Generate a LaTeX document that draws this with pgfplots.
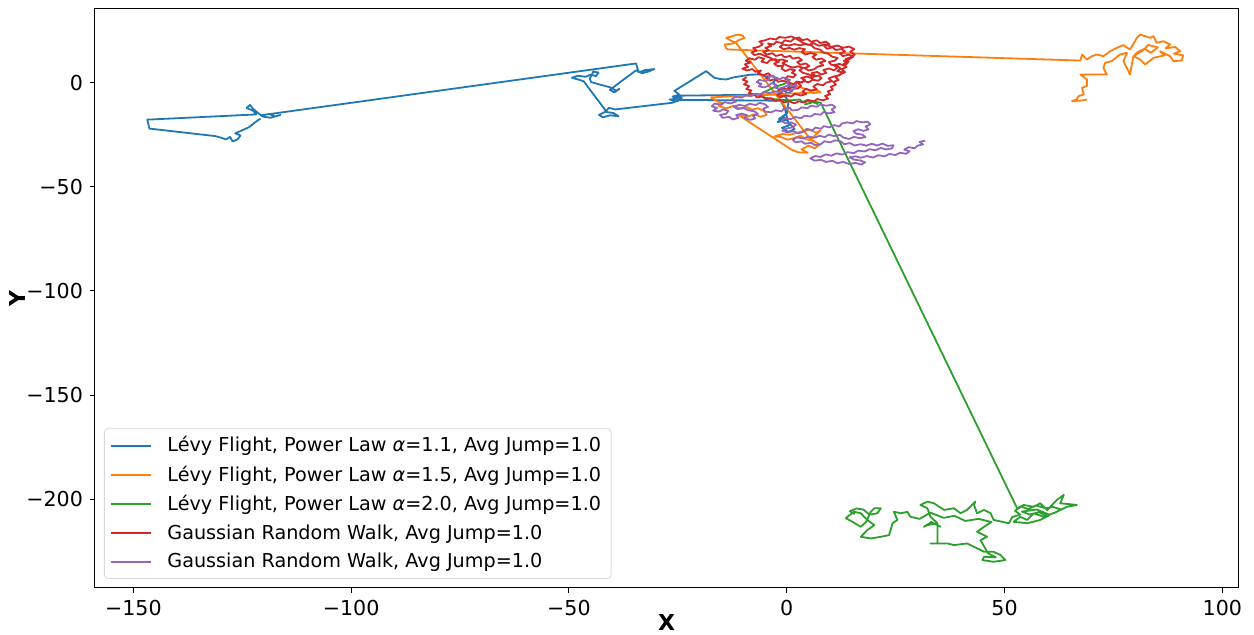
\documentclass[border=0pt]{standalone}
\usepackage{fontspec}
\setmainfont{DejaVu Sans}
\usepackage{pgfplots}
\pgfplotsset{compat=1.18}
\definecolor{c0}{HTML}{1F77B4}
\definecolor{c1}{HTML}{FF7F0E}
\definecolor{c2}{HTML}{2CA02C}
\definecolor{c3}{HTML}{D62728}
\definecolor{c4}{HTML}{9467BD}
\begin{document}
\begin{tikzpicture}
\begin{axis}[
  scale only axis, width=571.5pt, height=289.85pt,
  xmin=-158.8, xmax=103.6, ymin=-242.7, ymax=35.8,
  xtick={-150,-100,-50,0,50,100}, xticklabels={−150,−100,−50,0,50,100},
  ytick={-200,-150,-100,-50,0}, yticklabels={−200,−150,−100,−50,0},
  tick align=outside, tick pos=left, major tick length=2.5pt,
  tick style={black, line width=0.5pt},
  ticklabel style={font=\fontsize{10.3}{12}\selectfont},
  xlabel={X}, ylabel={Y},
  xlabel shift=-7.5pt, ylabel shift=-6.5pt,
  label style={font=\fontsize{11}{13}\selectfont\bfseries},
  axis line style={line width=0.5pt},
  legend style={at={(0,0)}, anchor=south west, xshift=4.5pt, yshift=4.5pt,
    draw=black!15, rounded corners=2pt, font=\fontsize{9.6}{11}\selectfont,
    row sep=1.5pt, inner xsep=3pt, inner ysep=2pt,
    /tikz/every odd column/.style={column sep=5.5pt}},
  legend cell align=left,
  legend image code/.code={\draw[#1, line width=1pt] (0pt,0pt) -- (20pt,0pt);},
  every axis plot/.append style={line width=0.9pt, line join=round},
]
\addplot[c0] coordinates {
(0,0) (0.9,-1.2) (0.2,-2.6) (1.3,-3.8) (0.3,-5.0) (-0.8,-3.6) (-2.2,-2.6) (-3.1,0.4) (-2.0,2.1) (-3.6,3.2) (-5.0,3.1) (-6.3,4.0) (-8.4,3.9) (-10.5,3.2) (-12.2,2.6) (-13.9,1.6) (-15.2,1.8) (-16.6,2.4) (-18.5,5.6) (-22.7,0.1) (-25.8,-3.9)
(-24.6,-5.8) (-26.2,-6.6) (-25.0,-7.6) (-26.9,-8.0) (-25.4,-8.9) (-24.1,-7.3) (-25.6,-6.2)
(-1.6,-5.6) (-0.2,-6.8) (0.4,-9.3) (0.2,-12.0) (0.1,-14.6) (-1.8,-17.4) (-0.3,-18.0) (-2.1,-18.9) (-0.6,-16.5) (0.7,-19.6) (1.8,-22.3) (0.3,-23.6) (-1.1,-21.6) (0.5,-20.5) (-0.4,-12.5) (-1.4,-8.6)
(-24.4,-8.2) (-26.3,-9.6)
(-39.4,-12.8) (-40.8,-12.0) (-41.6,-13.9) (-43.1,-15.4) (-42.2,-16.6) (-40.5,-15.6) (-38.6,-16.1) (-39.8,-14.5) (-41.3,-14.1)
(-46.6,0.7) (-47.9,1.6) (-49.3,2.4) (-48.0,3.4) (-46.2,2.9) (-45.0,3.9) (-43.8,3.2) (-43.2,4.9) (-44.4,5.4) (-45.2,1.9) (-44.9,0.3)
(-40.3,-2.3) (-39.2,-3.8) (-38.4,-2.9) (-39.6,-4.6) (-40.6,-3.4)
(-34.6,6.0) (-33.2,4.6) (-31.6,5.5) (-30.4,6.6) (-32.5,6.1) (-34.0,5.0) (-34.6,9.3)
(-120.7,-15.6) (-118.8,-15.0) (-117.4,-16.2) (-116.2,-15.4) (-118.5,-16.8) (-120.3,-16.2) (-121.5,-14.3) (-122.6,-12.3) (-123.2,-10.6) (-124.0,-12.1) (-122.4,-13.5) (-121.8,-15.2)
(-146.8,-17.7) (-146.3,-22.0) (-131.2,-25.6) (-129.8,-26.4) (-128.7,-27.2) (-127.8,-26.0) (-127.2,-28.2) (-126.0,-27.0) (-125.4,-25.3) (-126.6,-24.3) (-125.2,-23.0) (-123.5,-21.4) (-121.8,-18.6) (-120.8,-17.2)
};
\addlegendentry{Lévy Flight, Power Law {\itshape α}=1.1, Avg Jump=1.0}
\addplot[c1] coordinates {
(0,0) (1.4,-0.8) (2.7,-1.9) (4.1,-2.8) (5.5,-3.8) (6.9,-3.5) (7.8,-4.6) (6.2,-4.9) (5.5,-4.7)
(-17.4,-7.0) (-16.0,-8.9) (-14.5,-9.8) (-15.6,-11.2) (-13.8,-12.3) (-12.2,-11.0) (-10.7,-12.4) (-9.2,-11.6) (-8.0,-12.9) (-6.6,-12.2) (-5.2,-13.6) (-4.6,-15.4) (-6.0,-16.3) (-7.5,-15.1) (-9.1,-16.4) (-10.6,-15.3) (-11.2,-15.3)
(1.0,-32.0) (2.6,-33.4) (4.8,-33.6) (3.4,-32.0) (5.0,-30.2) (6.4,-31.5) (7.6,-29.8) (6.2,-28.0) (4.4,-27.0) (3.2,-25.4) (1.6,-26.6) (0.2,-27.3) (-1.4,-26.0) (-2.8,-25.8) (-1.0,-24.6) (0.6,-25.0) (3.8,-23.2) (5.2,-22.5) (6.8,-24.0) (7.8,-22.8) (5.5,-27.3)
(-11.7,19.4) (-12.8,20.2) (-13.9,21.6) (-12.5,22.4) (-11.4,23.1) (-10.2,22.8) (-9.7,21.5) (-10.9,20.6) (-12.2,18.9) (-14.2,18.4) (-14.0,16.8) (-13.5,16.0)
(67.4,10.7) (67.8,13.6) (68.9,11.2) (70.1,12.8) (71.2,13.6) (72.7,12.8) (74.3,15.2) (75.8,16.8) (77.3,18.1) (78.8,16.0) (80.4,21.6) (81.1,23.2) (83.4,21.6) (84.2,22.4) (84.9,19.2) (86.5,20.0) (88.0,18.4) (87.0,16.6) (89.2,17.2) (90.3,15.2) (88.9,14.0) (91.0,13.2) (90.7,10.7) (88.8,10.4) (88.0,12.8) (85.7,15.2) (86.8,13.2) (84.2,12.0) (82.3,8.8) (81.1,11.2) (79.6,12.8) (80.6,14.8) (82.2,16.4) (83.6,14.4) (85.2,17.0) (83.0,18.2) (81.8,15.6) (79.6,12.8) (78.8,4.0) (77.3,10.4) (78.1,14.4) (76.5,13.6) (74.6,10.4) (73.1,9.6) (72.7,7.2) (73.5,4.0) (70.4,4.0) (67.4,4.0) (68.9,1.6) (68.9,-1.6) (67.8,-2.4) (68.2,-5.6) (67.0,-6.4) (66.6,-8.0) (65.5,-8.8) (67.8,-8.5) (68.9,-8.0)
};
\addlegendentry{Lévy Flight, Power Law {\itshape α}=1.5, Avg Jump=1.0}
\addplot[c2] coordinates {
(0,0) (-1.2,-1.0) (-2.6,-1.8) (-3.9,-3.2) (-5.1,-4.4) (-6.3,-5.9) (-5.0,-7.1) (-3.2,-7.8) (-1.0,-8.2) (1.1,-8.4) (3.0,-8.0) (3.6,-9.3) (4.8,-8.2) (5.6,-9.6) (4.2,-10.4) (6.2,-9.0) (7.1,-10.2) (5.3,-8.6) (7.8,-9.6)
(52.9,-204.4) (54.4,-202.8) (56.7,-203.7) (58.2,-202.0) (59.8,-205.3) (62.0,-200.4) (63.6,-198.0) (62.8,-202.0) (66.6,-202.8) (64.3,-203.7) (62.0,-206.1) (59.0,-208.5) (56.7,-206.8) (55.2,-210.0) (53.6,-208.5) (52.1,-210.9) (55.2,-211.6) (58.2,-210.0) (60.4,-207.6) (57.4,-205.0) (54.0,-206.0) (55.8,-207.4) (57.9,-206.3) (59.6,-207.9) (61.5,-206.6) (63.0,-205.0) (61.2,-203.8) (59.4,-204.4) (57.2,-203.0) (55.5,-204.8) (53.8,-203.6) (52.4,-205.6) (53.6,-207.4) (51.8,-208.6) (51.0,-211.6) (47.5,-210.0) (46.8,-206.8) (45.3,-205.2) (43.7,-206.8) (43.0,-202.8) (43.3,-201.2) (41.4,-205.2) (39.9,-206.8) (38.4,-204.4) (36.1,-205.2) (33.8,-202.0) (32.3,-201.2) (30.7,-202.8) (32.3,-204.4) (33.0,-208.5) (34.6,-211.6) (32.3,-212.5) (31.5,-213.3) (33.2,-211.0) (35.3,-213.3) (34.6,-212.4) (34.6,-221.3) (33.0,-221.3) (36.9,-221.3) (38.4,-222.1) (41.4,-221.3) (43.0,-222.9) (45.3,-225.3) (47.5,-225.3) (49.1,-226.9) (50.2,-229.3) (47.5,-230.1) (44.9,-229.3) (45.3,-227.7) (48.0,-228.0) (46.2,-226.0) (44.5,-219.7) (46.0,-218.1) (43.7,-215.7) (45.3,-213.3) (47.0,-211.0) (44.0,-209.5) (41.0,-210.5) (38.5,-208.0) (36.0,-209.0) (33.0,-206.5) (30.5,-209.5) (28.4,-208.5) (27.7,-206.1) (26.2,-206.8) (24.6,-206.1) (25.4,-210.0) (24.3,-211.6) (23.5,-217.3) (21.6,-218.1) (19.3,-218.9) (17.0,-218.1) (18.5,-214.9) (20.1,-212.5) (18.5,-210.0) (17.0,-206.8) (15.5,-206.1) (13.9,-208.5) (13.6,-209.2) (15.1,-210.9) (17.0,-213.3) (18.2,-211.0) (19.3,-206.1) (20.1,-204.4) (21.6,-204.4) (20.8,-206.8) (19.0,-207.5) (17.6,-205.0) (16.0,-204.5) (14.5,-205.8) (15.6,-207.2)
};
\addlegendentry{Lévy Flight, Power Law {\itshape α}=2.0, Avg Jump=1.0}
\addplot[c3] coordinates {
(0,0) (0.7,1.3) (-0.4,1.9) (0.3,3.2) (1.5,2.6) (2.1,3.9) (1.2,4.8) (1.9,6.1) (0.6,6.5) (-0.3,5.6) (-1.2,6.9) (-0.8,8.3) (-2.1,8.0) (-2.9,9.2) (-1.8,10.1) (-2.6,11.4) (-3.9,10.8) (-4.5,9.5) (-5.8,10.2) (-5.2,11.6) (-6.5,12.3) (-7.3,11.1) (-8.6,11.8) (-9.4,10.6) (-8.3,9.7) (-9.6,8.9) (-8.9,7.6) (-10.2,6.8) (-9.1,5.9) (-7.9,6.6) (-7.2,5.3) (-5.9,5.9) (-6.6,4.5) (-5.4,3.7) (-4.2,4.6) (-3.6,3.2) (-4.8,2.4) (-3.9,1.1) (-2.6,1.8) (-2.0,0.5) (-0.8,1.0) (0.4,0.2) (1.6,-0.7) (2.3,0.6) (3.5,0.1) (4.2,1.4) (3.3,2.3) (4.6,3.0) (5.8,2.2) (6.5,3.5) (5.7,4.6) (7.0,5.2) (7.9,4.0) (9.1,4.8) (8.4,6.1) (9.7,6.9) (10.9,6.0) (11.6,7.3) (10.8,8.5) (12.1,9.1) (13.2,8.2) (14.0,9.5) (13.1,10.6) (14.4,11.4) (15.3,12.6) (14.2,13.5) (12.9,12.8) (12.2,14.1) (13.4,15.0) (12.6,16.2) (11.2,15.8) (10.5,17.1) (9.3,16.3) (8.6,17.6) (9.8,18.5) (9.0,19.8) (7.7,19.1) (6.9,20.4) (5.6,19.7) (4.8,21.0) (3.5,20.5) (2.8,21.8) (1.6,21.1) (0.9,19.8) (-0.4,20.4) (-1.1,19.1) (-2.4,19.7) (-3.0,18.4) (-4.3,18.9) (-3.6,17.6) (-4.9,16.8) (-4.1,15.6) (-5.4,14.9) (-4.6,13.6) (-3.3,14.2) (-2.5,12.9) (-1.2,13.6) (-0.5,12.3) (0.8,12.9) (1.4,11.6) (2.7,12.2) (3.5,10.9) (2.4,10.0) (3.1,8.7) (4.4,9.3) (5.2,8.0) (4.1,7.1) (5.0,5.9) (6.3,6.5) (7.1,7.8) (8.4,8.4) (7.6,9.7) (8.9,10.5) (8.0,11.7) (6.7,11.1) (5.9,12.4) (6.8,13.6) (5.5,14.3) (4.3,13.6) (3.4,14.8) (4.2,16.1) (2.9,16.7) (1.7,15.9) (0.6,16.8) (-0.7,16.1) (-1.6,17.3) (-0.8,18.4) (0.5,17.9) (1.8,18.6) (3.1,18.0) (4.4,18.7) (5.7,17.9) (6.4,16.6) (7.7,15.9) (8.3,14.6) (9.6,13.9) (10.4,12.6) (11.7,11.9) (11.0,10.6) (9.7,10.0) (10.2,8.7) (11.5,8.2) (12.4,6.9) (11.6,5.6) (12.9,4.9) (12.1,3.6) (10.8,3.0) (9.6,2.1) (10.4,0.8) (9.1,0.1) (8.3,-1.2) (7.0,-0.6) (6.1,-1.8) (6.9,-3.1) (5.6,-3.7) (4.4,-2.9) (3.6,-4.2) (4.5,-5.4) (3.2,-6.1) (1.9,-5.3) (1.0,-6.6) (-0.3,-6.0) (-1.4,-7.0) (-2.2,-5.8) (-1.1,-4.9) (-2.0,-3.7) (-0.9,-2.6) (0.3,-3.3) (1.2,-2.1) (2.5,-2.8) (3.3,-1.5) (2.6,-0.2) (3.9,0.8) (5.1,0.2) (5.9,1.5) (7.2,1.0) (8.0,2.3) (7.3,3.5) (6.1,2.9) (5.0,4.1) (3.7,4.8) (2.9,6.0) (3.8,7.2) (2.6,7.9) (1.3,7.3) (0.2,8.2) (-1.0,9.5) (0.1,10.5) (-1.2,11.2) (-2.5,10.6) (-3.8,12.0) (-5.0,12.9) (-6.2,14.0) (-7.4,13.3) (-8.1,14.6) (-6.9,15.4) (-7.7,16.7) (-6.4,17.3) (-5.5,18.6) (-6.3,19.8) (-5.0,20.4) (-3.8,21.3) (-2.5,20.8) (-1.7,22.0) (-0.3,21.6) (1.0,22.3) (2.2,21.2) (3.5,19.5) (4.9,18.2) (6.2,19.0) (7.4,17.8) (8.9,18.4) (10.2,17.3) (11.7,17.9) (12.9,16.8) (14.3,17.4) (15.5,16.2) (14.6,14.9) (15.6,13.6) (14.8,12.3) (13.6,11.5) (14.2,10.1) (13.0,9.0) (13.7,7.6) (12.6,6.4) (13.4,5.1) (12.2,4.0) (11.2,2.7) (11.9,1.4) (10.7,0.4) (11.3,-0.9) (10.1,-1.9) (10.6,-3.3) (9.4,-4.1) (10.0,-5.5) (8.8,-6.3) (9.5,-7.6) (8.3,-8.4) (7.0,-7.8) (6.2,-9.0) (5.0,-8.3) (4.1,-9.5) (2.8,-8.9) (1.7,-9.9) (0.6,-8.8) (-0.6,-9.4) (-1.5,-8.2) (-2.8,-8.7) (-3.5,-7.4) (-4.8,-7.9) (-5.6,-6.6) (-6.9,-7.0) (-7.4,-5.6) (-8.7,-5.0) (-8.1,-3.7) (-9.3,-3.0) (-8.6,-1.6) (-9.8,-0.8) (-9.0,0.6) (-10.1,1.5) (-9.2,2.8)
};
\addlegendentry{Gaussian Random Walk, Avg Jump=1.0}
\addplot[c4] coordinates {
(0,0) (0.6,0.9) (0.1,2.0) (-0.9,2.6) (-1.5,1.7) (-2.7,2.1) (-3.1,3.4) (-4.2,2.9) (-4.0,1.6) (-5.1,0.9) (-6.3,1.4) (-6.9,0.3) (-5.8,-0.5) (-6.4,-1.7) (-5.2,-2.2) (-4.1,-1.4) (-3.6,-0.2) (-2.4,-0.9) (-2.9,-2.2) (-1.7,-2.8) (-0.5,-2.0) (0.4,-1.1) (1.6,-1.6) (2.2,-0.5) (1.9,-2.8) (0.8,-3.7) (-0.6,-3.4) (-1.4,-4.6) (-2.8,-4.1) (-3.9,-4.9) (-5.3,-4.4) (-6.0,-5.6) (-7.4,-5.2) (-8.1,-6.4)
(-9.5,-6.0) (-10.4,-7.1) (-11.9,-6.8) (-12.6,-8.0) (-11.6,-9.0) (-12.9,-9.9) (-14.3,-9.3) (-15.1,-10.4) (-16.6,-10.0) (-17.2,-11.3) (-16.0,-12.1) (-16.9,-13.4) (-15.5,-13.8) (-14.6,-12.7) (-13.4,-13.5) (-13.9,-14.9) (-15.3,-15.4) (-14.7,-16.8) (-13.2,-16.4) (-12.4,-17.6) (-11.1,-16.9) (-11.6,-15.5) (-10.3,-14.8) (-9.1,-15.6) (-9.7,-17.0) (-8.4,-17.8) (-7.2,-17.1) (-7.8,-15.8) (-6.6,-15.0) (-7.4,-13.7) (-8.8,-13.2) (-9.9,-12.1) (-11.3,-12.6) (-12.2,-11.4) (-10.9,-10.6) (-9.6,-11.1) (-8.5,-10.1) (-7.1,-10.7) (-6.2,-9.6) (-5.0,-10.3) (-4.3,-11.6) (-5.4,-12.4) (-5.0,-13.8) (-3.6,-14.2) (-2.5,-13.2) (-1.2,-13.7) (-0.6,-12.4) (0.7,-12.0) (1.2,-13.3) (2.6,-13.0) (3.4,-11.8) (4.8,-12.2) (5.5,-11.0) (6.9,-11.5) (7.8,-10.4) (9.1,-11.0) (10.4,-10.5) (11.2,-11.7) (10.3,-12.8) (11.0,-14.1) (9.7,-14.7) (8.5,-14.0) (7.8,-15.3) (6.4,-15.0) (5.5,-16.2) (4.1,-15.8) (3.3,-17.0) (2.0,-16.4) (0.9,-17.5) (-0.4,-17.0) (-1.2,-18.3) (-0.3,-19.5) (1.0,-19.0) (2.1,-20.1) (1.4,-21.4) (0.0,-21.9) (-1.0,-23.0) (0.2,-23.9) (1.5,-23.2) (2.7,-24.3) (3.9,-23.4) (4.6,-22.1) (5.9,-22.8) (6.6,-21.5) (7.9,-22.1) (8.5,-20.8) (9.8,-21.4) (10.9,-20.3) (12.1,-21.0) (12.6,-19.6) (13.9,-19.0) (15.2,-19.5) (16.0,-18.4) (17.3,-19.0) (18.6,-18.7) (19.2,-20.0) (18.1,-21.0) (18.8,-22.4) (17.6,-23.1) (16.4,-22.3) (15.3,-23.2) (16.0,-24.5) (17.4,-24.9) (18.1,-26.1) (16.8,-26.6) (15.4,-26.0) (14.3,-27.0) (13.0,-26.3) (12.2,-25.0) (10.9,-25.6) (9.6,-24.9) (8.8,-26.1) (7.5,-25.5) (6.3,-26.4) (5.0,-25.8) (3.8,-26.8) (2.4,-26.2) (1.4,-27.3) (2.0,-28.6) (3.4,-28.1) (4.2,-29.3) (5.6,-28.8) (6.5,-30.0) (7.9,-29.4) (8.6,-28.1) (10.0,-28.6) (11.1,-27.6) (12.5,-28.2) (13.1,-29.5) (14.5,-29.0) (15.6,-30.1) (17.0,-29.5) (18.3,-30.2) (19.5,-29.3) (20.8,-30.1) (22.0,-29.2) (23.2,-30.3) (24.5,-30.0) (24.2,-31.5) (22.8,-32.0) (21.6,-31.3) (20.4,-32.4) (19.0,-31.9) (17.9,-33.0) (16.4,-32.6) (15.4,-33.8) (14.0,-33.3) (12.8,-34.5) (11.4,-33.9) (10.3,-35.0) (8.9,-34.4) (7.8,-35.6) (6.5,-35.2) (5.4,-36.3) (6.4,-37.4) (7.9,-37.0) (9.0,-38.0) (10.5,-37.5) (11.6,-38.6) (13.0,-38.0) (14.3,-39.0) (15.8,-38.5) (17.1,-39.3) (18.0,-38.2) (16.9,-37.3) (15.5,-36.9) (14.4,-35.8) (15.8,-35.3) (17.0,-36.0) (18.4,-35.2) (19.8,-35.9) (21.0,-34.8) (22.5,-35.3) (23.6,-34.2) (25.0,-34.7) (26.0,-33.6) (27.4,-34.1) (28.2,-32.9) (27.0,-32.1) (28.0,-30.9) (29.4,-31.5) (30.0,-30.2) (31.3,-29.6) (30.5,-28.4) (31.8,-27.8)
};
\addlegendentry{Gaussian Random Walk, Avg Jump=1.0}
\end{axis}
\pgfresetboundingbox
\path ([xshift=-47.5pt,yshift=-23.5pt]current axis.south west) rectangle ([xshift=8pt,yshift=4.15pt]current axis.north east);
\end{tikzpicture}
\end{document}
